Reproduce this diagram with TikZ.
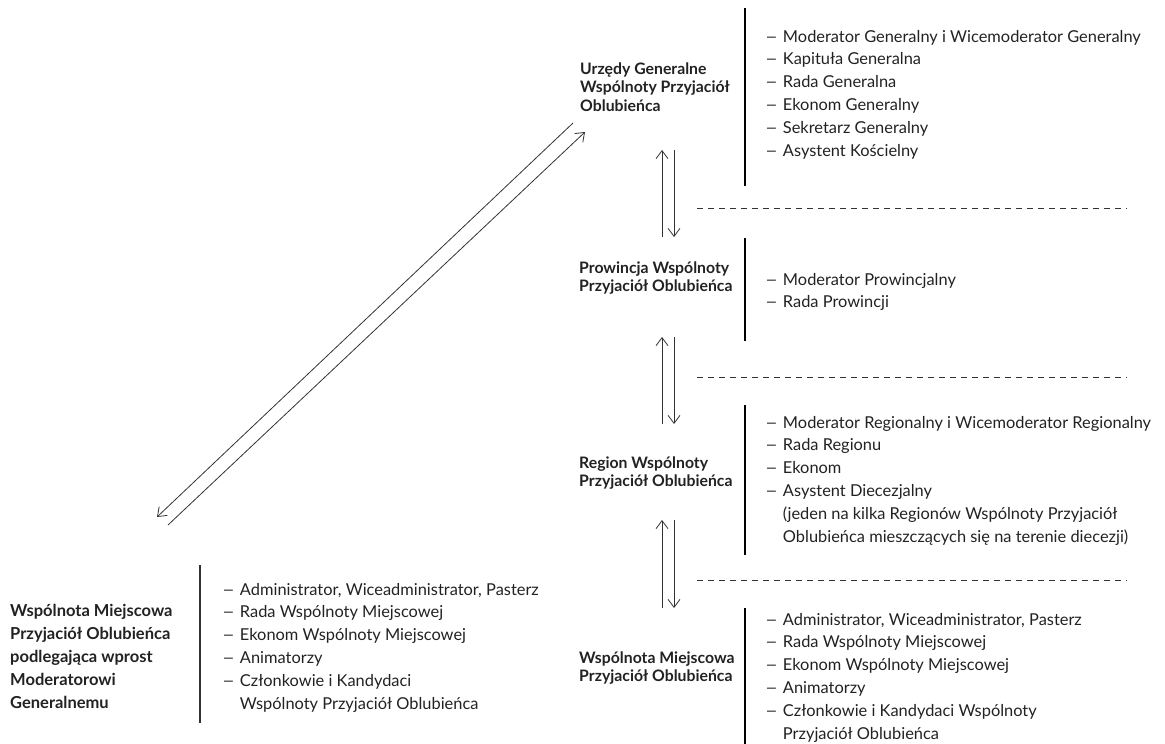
\documentclass[tikz,border=0pt]{standalone}
\usepackage{fontspec}
\usepackage{graphicx}
\setmainfont{Lato}
\usetikzlibrary{arrows.meta}
\definecolor{ink}{HTML}{222222}
\definecolor{lineg}{HTML}{333333}
\newcommand\itm{\scalebox{1.35}[1]{–}\hspace{0.3em}}
\newcommand\ind{\hphantom{\itm}}
\begin{document}
\begin{tikzpicture}[x=1pt,y=-1pt,
  % multi-line nodes: the base anchor sits on the LAST line's baseline
  head/.style={anchor=base west, inner sep=0pt, align=left, text=ink,
    font=\fontsize{15.8}{18.5}\selectfont\bfseries},
  headL/.style={head, font=\fontsize{16.5}{23}\selectfont\bfseries},
  items/.style={anchor=base west, inner sep=0pt, align=left, text=ink,
    font=\fontsize{16.4}{22.8}\selectfont},
  bar/.style={draw=black, line width=1.1pt},
  sep/.style={draw=lineg, dash pattern=on 6pt off 5pt, line width=0.7pt},
  arr/.style={draw=lineg, line width=0.8pt, -{Straight Barb[length=8pt,width=12pt]}}]
\useasboundingbox (0,0) rectangle (1165,744);

% headings
\node[head] (hGen) at (580,111) {Urzędy Generalne\\Wspólnoty Przyjaciół\\Oblubieńca};
\node[head] (hProv) at (579,291.5) {Prowincja Wspólnoty\\Przyjaciół Oblubieńca};
\node[head] (hReg) at (579,486.5) {Region Wspólnoty\\Przyjaciół Oblubieńca};
\node[head] (hLoc) at (579,681.5) {Wspólnota Miejscowa\\Przyjaciół Oblubieńca};
\node[headL] (hDir) at (10,708) {Wspólnota Miejscowa\\Przyjaciół Oblubieńca\\podlegająca wprost\\Moderatorowi\\Generalnemu};

% lists
\node[items] (lGen) at (765,156) {\itm Moderator Generalny i Wicemoderator Generalny\\\itm Kapituła Generalna\\\itm Rada Generalna\\\itm Ekonom Generalny\\\itm Sekretarz Generalny\\\itm Asystent Kościelny};
\node[items] (lProv) at (765,307.8) {\itm Moderator Prowincjalny\\\itm Rada Prowincji};
\node[items] (lReg) at (765,542) {\itm Moderator Regionalny i Wicemoderator Regionalny\\\itm Rada Regionu\\\itm Ekonom\\\itm Asystent Diecezjalny\\\ind(jeden na kilka Regionów Wspólnoty Przyjaciół\\\ind Oblubieńca mieszczących się na terenie diecezji)};
\node[items] (lLoc) at (765,739) {\itm Administrator, Wiceadministrator, Pasterz\\\itm Rada Wspólnoty Miejscowej\\\itm Ekonom Wspólnoty Miejscowej\\\itm Animatorzy\\\itm Członkowie i Kandydaci Wspólnoty\\\ind Przyjaciół Oblubieńca};
\node[items] (lDir) at (222,709) {\itm Administrator, Wiceadministrator, Pasterz\\\itm Rada Wspólnoty Miejscowej\\\itm Ekonom Wspólnoty Miejscowej\\\itm Animatorzy\\\itm Członkowie i Kandydaci\\\ind Wspólnoty Przyjaciół Oblubieńca};

% vertical bars
\draw[bar] (745,8) -- (745,186);
\draw[bar] (745,238) -- (745,341);
\draw[bar] (745,405) -- (745,555);
\draw[bar] (745,608) -- (745,744);
\draw[bar, draw=lineg] (200,565) -- (200,723);

% dashed separators
\draw[sep] (697,208) -- (1127,208);
\draw[sep] (697,377) -- (1127,377);
\draw[sep] (697,580) -- (1127,580);

% arrow end points
\coordinate (a1b) at (662,237); \coordinate (a1t) at (662,150);
\coordinate (b1t) at (674,150); \coordinate (b1b) at (674,237);
\coordinate (a2b) at (662,424); \coordinate (a2t) at (662,337);
\coordinate (b2t) at (674,337); \coordinate (b2b) at (674,424);
\coordinate (a3b) at (662,608); \coordinate (a3t) at (662,520);
\coordinate (b3t) at (674,520); \coordinate (b3b) at (674,608);
\coordinate (dAs) at (573,123); \coordinate (dAe) at (157,517);
\coordinate (dBs) at (168,525); \coordinate (dBe) at (585,132);

\draw[arr] (a1b) -- (a1t);
\draw[arr] (b1t) -- (b1b);
\draw[arr] (a2b) -- (a2t);
\draw[arr] (b2t) -- (b2b);
\draw[arr] (a3b) -- (a3t);
\draw[arr] (b3t) -- (b3b);
\draw[arr] (dAs) -- (dAe);
\draw[arr] (dBs) -- (dBe);
\end{tikzpicture}
\end{document}
